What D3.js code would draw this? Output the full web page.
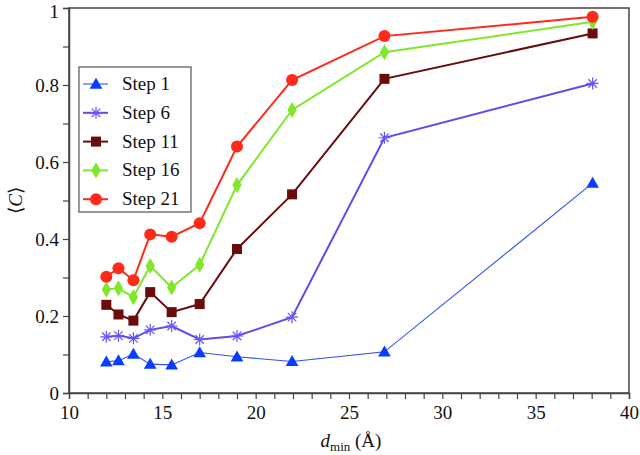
<!DOCTYPE html>
<html>
<head>
<meta charset="utf-8">
<script src="https://cdn.jsdelivr.net/npm/d3@7"></script>
</head>
<body style="margin:0">
<script>
// d_min values (Å)
const dmin = [12.0, 12.65, 13.45, 14.35, 15.5, 17.0, 19.0, 21.95, 26.9, 38.05];

const step1  = [0.081, 0.084, 0.101, 0.075, 0.073, 0.105, 0.094, 0.082, 0.107, 0.545];
const step6  = [0.146, 0.149, 0.142, 0.164, 0.174, 0.139, 0.148, 0.197, 0.663, 0.804];
const step11 = [0.229, 0.204, 0.188, 0.262, 0.210, 0.231, 0.374, 0.516, 0.816, 0.934];
const step16 = [0.269, 0.272, 0.249, 0.330, 0.274, 0.333, 0.540, 0.735, 0.885, 0.964];
const step21 = [0.302, 0.324, 0.293, 0.412, 0.406, 0.441, 0.640, 0.813, 0.927, 0.977];

const seriesNames = ["Step 1", "Step 6", "Step 11", "Step 16", "Step 21"];
const xTicks = [10, 15, 20, 25, 30, 35, 40];
const yTicks = [0, 0.2, 0.4, 0.6, 0.8, 1];

const FONT = "Times New Roman";

const series = [
    {name: seriesNames[0], values: step1,  color: "#3050f0", mark: "#0a3cff", width: 1.1, shape: "triangle"},
    {name: seriesNames[1], values: step6,  color: "#5b4cf0", mark: "#6655ff", width: 2,   shape: "asterisk"},
    {name: seriesNames[2], values: step11, color: "#6a0c0c", mark: "#6a0c0c", width: 2,   shape: "square"},
    {name: seriesNames[3], values: step16, color: "#80e82a", mark: "#80e82a", width: 2,   shape: "diamond"},
    {name: seriesNames[4], values: step21, color: "#ff2a1a", mark: "#ff2a1a", width: 2,   shape: "circle"}
];

const width = 640, height = 455;
const margin = {left: 69, right: 11, top: 8, bottom: 62};

const svg = d3.select("body").append("svg")
    .attr("width", width).attr("height", height);

const x = d3.scaleLinear().domain([10, 40]).range([margin.left, width - margin.right]);
const y = d3.scaleLinear().domain([0, 1]).range([height - margin.bottom, margin.top]);

// frame
svg.append("rect")
    .attr("x", x(10)).attr("y", y(1))
    .attr("width", x(40) - x(10)).attr("height", y(0) - y(1))
    .attr("fill", "none").attr("stroke", "#444").attr("stroke-width", 1.5);

// x axis
const xAxis = svg.append("g")
    .attr("transform", `translate(0,${y(0)})`)
    .call(d3.axisBottom(x).tickValues(d3.range(10, 41, 1)).tickSize(6)
        .tickFormat(d => xTicks.includes(d) ? d : ""));
xAxis.select(".domain").attr("stroke", "#444").attr("stroke-width", 1.5);
xAxis.selectAll(".tick line").attr("stroke", "#444").attr("stroke-width", 1.2);
xAxis.selectAll(".tick text").attr("fill", "#111").attr("dy", "0.9em");

// y axis
const yAxis = svg.append("g")
    .attr("transform", `translate(${x(10)},0)`)
    .call(d3.axisLeft(y).tickValues(d3.range(0, 11).map(i => i / 10)).tickSize(6)
        .tickFormat(d => yTicks.some(t => Math.abs(t - d) < 1e-9) ? d3.format("~g")(d) : ""));
yAxis.select(".domain").attr("stroke", "#444").attr("stroke-width", 1.5);
yAxis.selectAll(".tick line").attr("stroke", "#444").attr("stroke-width", 1.2);
yAxis.selectAll(".tick text").attr("fill", "#111").attr("x", -10).attr("dy", "0.36em");
yAxis.selectAll(".tick").filter(d => d === 1).select("text").attr("dy", "0.5em");

// axis titles
const xt = svg.append("text")
    .attr("x", 351).attr("y", 447)
    .attr("text-anchor", "middle").attr("fill", "#111");
xt.append("tspan").attr("font-style", "italic").text("d");
xt.append("tspan").style("font-size", "13px").attr("dy", 4).text("min");
xt.append("tspan").attr("dy", -4).text(" (Å)");

const yt = svg.append("text")
    .attr("transform", `translate(22,${(y(0) + y(1)) / 2}) rotate(-90)`)
    .attr("text-anchor", "middle").attr("fill", "#111");
yt.append("tspan").text("⟨");
yt.append("tspan").attr("font-style", "italic").text("C");
yt.append("tspan").text("⟩");

// markers
function drawMarker(g, shape, color, cx, cy) {
    if (shape === "triangle") {
        g.append("path").attr("d", d3.symbol(d3.symbolTriangle, 70)())
            .attr("transform", `translate(${cx},${cy + 1})`).attr("fill", color);
    } else if (shape === "asterisk") {
        const r = 6;
        const p = d3.path();
        for (let a = 0; a < 180; a += 45) {
            const rad = a * Math.PI / 180;
            p.moveTo(cx - r * Math.cos(rad), cy - r * Math.sin(rad));
            p.lineTo(cx + r * Math.cos(rad), cy + r * Math.sin(rad));
        }
        g.append("path").attr("d", p.toString()).attr("stroke", color)
            .attr("stroke-width", 1.2).attr("fill", "none");
    } else if (shape === "square") {
        g.append("rect").attr("x", cx - 5).attr("y", cy - 5)
            .attr("width", 10).attr("height", 10).attr("fill", color);
    } else if (shape === "diamond") {
        g.append("path").attr("d", d3.symbol(d3.symbolDiamond, 75)())
            .attr("transform", `translate(${cx},${cy})`).attr("fill", color);
    } else {
        g.append("circle").attr("cx", cx).attr("cy", cy).attr("r", 6).attr("fill", color);
    }
}

const line = d3.line().x(d => x(d[0])).y(d => y(d[1]));

series.forEach(s => {
    const pts = dmin.map((d, i) => [d, s.values[i]]);
    const g = svg.append("g");
    g.append("path").attr("d", line(pts))
        .attr("fill", "none").attr("stroke", s.color).attr("stroke-width", s.width);
    pts.forEach(p => drawMarker(g, s.shape, s.mark, x(p[0]), y(p[1])));
});

// legend
const legend = svg.append("g");
legend.append("rect")
    .attr("x", 79).attr("y", 67).attr("width", 112).attr("height", 145)
    .attr("fill", "#fff").attr("stroke", "#555").attr("stroke-width", 1.2);

series.forEach((s, i) => {
    const ly = 84 + i * 28.8;
    const g = legend.append("g");
    g.append("line").attr("x1", 83).attr("x2", 108).attr("y1", ly).attr("y2", ly)
        .attr("stroke", s.color).attr("stroke-width", s.width);
    drawMarker(g, s.shape, s.mark, 96, ly);
    g.append("text").attr("x", 122).attr("y", ly + 6)
        .attr("fill", "#111").text(s.name);
});

// every text: serif at 19px, set inline so nothing overrides it
svg.selectAll("text")
    .style("font-family", FONT)
    .style("font-size", function() { return this.style.fontSize || "19px"; });
</script>
</body>
</html>
